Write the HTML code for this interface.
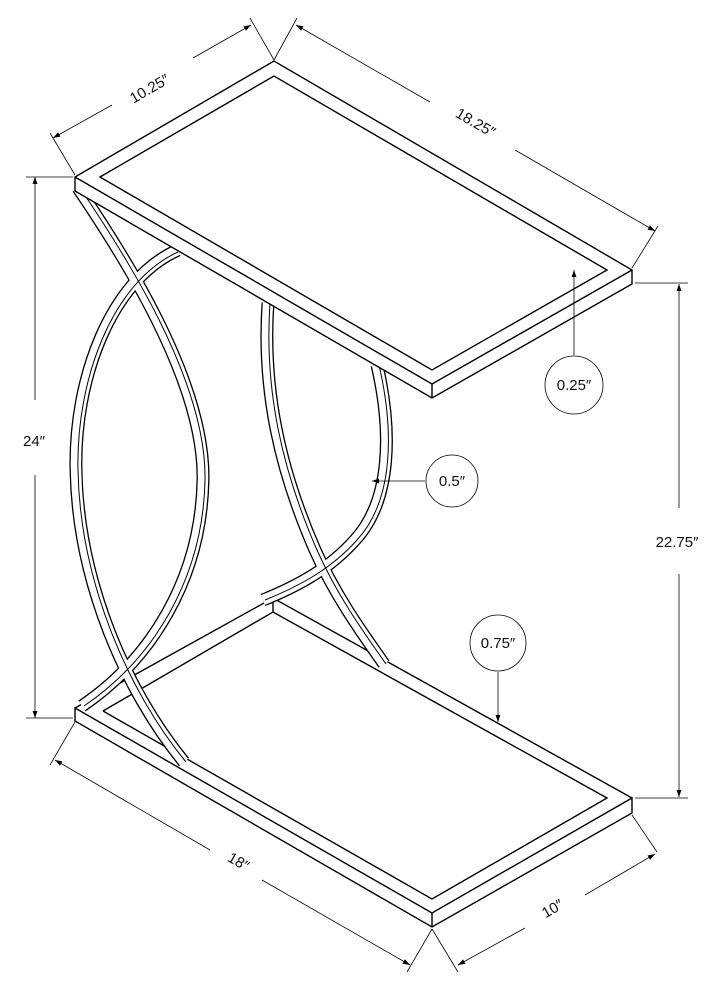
<!DOCTYPE html>
<html><head><style>
html,body{margin:0;padding:0;background:#fff;}
svg{display:block;}
text{font-family:"Liberation Sans",sans-serif;font-size:15px;fill:#111;}
</style></head><body>
<svg width="720" height="990" viewBox="0 0 720 990" xmlns="http://www.w3.org/2000/svg">
<defs>
<marker id="a" viewBox="0 0 10 10" refX="10" refY="5" markerWidth="9" markerHeight="9" orient="auto-start-reverse"><path d="M0,1.5 L10,5 L0,8.5 z" fill="#000"/></marker>
</defs>
<!-- base frame -->
<g stroke="#000" stroke-width="1.4" fill="none" stroke-linejoin="miter">
<path d="M75,708 L432,913 L632,798 L632,813 L432,927 L75,721 Z" fill="#fff"/>
<line x1="432" y1="913" x2="432" y2="927"/>
<polyline points="632,798 273,598 75,708"/>
<polyline points="103,711 273,612 607,798 432,899 103,711"/>
<line x1="273" y1="598" x2="273" y2="612"/>
</g>
<!-- legs -->
<g fill="none" stroke="#000" stroke-width="13">
<path d="M78,188 C120,250 205,380 203,480 C201,580 150,660 82,706"/>
<path d="M178,250 C110,280 74,380 76,470 C78,580 125,690 184,762"/>
<path d="M377,365 C392,430 392,500 355,540 C330,568 300,585 263,600"/>
<path d="M268,303 C262,390 280,470 315,550 C335,595 360,630 384,664"/>
</g>
<g fill="none" stroke="#fff" stroke-width="10.4">
<path d="M78,188 C120,250 205,380 203,480 C201,580 150,660 82,706"/>
<path d="M178,250 C110,280 74,380 76,470 C78,580 125,690 184,762"/>
<path d="M377,365 C392,430 392,500 355,540 C330,568 300,585 263,600"/>
<path d="M268,303 C262,390 280,470 315,550 C335,595 360,630 384,664"/>
</g>
<g fill="none" stroke="#000" stroke-width="1">
<path d="M80,188 C122,250 207,380 205,480 C203,580 152,660 84,706"/>
<path d="M178,252 C112,282 76,380 78,470 C80,580 127,690 186,762"/>
<path d="M379,365 C394,430 394,500 357,540 C332,568 302,585 265,600"/>
<path d="M270,303 C264,390 282,470 317,550 C337,595 362,630 386,664"/>
</g>
<!-- top slab -->
<g stroke="#000" stroke-width="1.4" fill="#fff" stroke-linejoin="miter">
<polygon points="75,177 274,61 632,270 632,284 432,398 75,191"/>
<polyline fill="none" points="75,177 432,384 632,270"/>
<line x1="432" y1="384" x2="432" y2="398"/>
<polygon fill="none" points="100,177 274,76 607,270 432,370"/>
</g>
<!-- dimension lines -->
<g stroke="#000" stroke-width="0.8" fill="none">
<line x1="75" y1="175" x2="50" y2="133"/>
<line x1="274" y1="60" x2="250" y2="18"/>
<line x1="274" y1="60" x2="297" y2="18"/>
<line x1="632" y1="268" x2="658" y2="226"/>
<line x1="53" y1="138" x2="112" y2="105" marker-start="url(#a)"/>
<line x1="193" y1="58" x2="251" y2="25" marker-end="url(#a)"/>
<line x1="296" y1="25" x2="430" y2="102" marker-start="url(#a)"/>
<line x1="515" y1="150" x2="655" y2="231" marker-end="url(#a)"/>
<line x1="26" y1="177" x2="73" y2="177"/>
<line x1="26" y1="718" x2="73" y2="718"/>
<line x1="35" y1="177" x2="35" y2="400" marker-start="url(#a)"/>
<line x1="35" y1="475" x2="35" y2="718" marker-end="url(#a)"/>
<line x1="635" y1="283" x2="688" y2="283"/>
<line x1="635" y1="798" x2="688" y2="798"/>
<line x1="679" y1="284" x2="679" y2="508" marker-start="url(#a)"/>
<line x1="679" y1="574" x2="679" y2="797" marker-end="url(#a)"/>
<line x1="75" y1="722" x2="50" y2="765"/>
<line x1="432" y1="929" x2="407" y2="972"/>
<line x1="432" y1="929" x2="458" y2="972"/>
<line x1="632" y1="815" x2="657" y2="852"/>
<line x1="55" y1="760" x2="210" y2="850" marker-start="url(#a)"/>
<line x1="262" y1="880" x2="410" y2="965" marker-end="url(#a)"/>
<line x1="458" y1="965" x2="525" y2="928" marker-start="url(#a)"/>
<line x1="585" y1="895" x2="655" y2="854" marker-end="url(#a)"/>
<line x1="574" y1="355" x2="574" y2="270" marker-end="url(#a)"/>
<line x1="425" y1="481" x2="372" y2="481" marker-end="url(#a)"/>
<line x1="498" y1="672" x2="498" y2="722" marker-end="url(#a)"/>
<circle cx="574" cy="385" r="29"/>
<circle cx="452" cy="481" r="26"/>
<circle cx="498" cy="643" r="28"/>
</g>
<text x="0" y="0" transform="translate(152,93) rotate(-30)" text-anchor="middle">10.25″</text>
<text x="0" y="0" transform="translate(473,127) rotate(30)" text-anchor="middle">18.25″</text>
<text x="34" y="446" text-anchor="middle">24″</text>
<text x="677" y="547" text-anchor="middle">22.75″</text>
<text x="0" y="0" transform="translate(236,866) rotate(30)" text-anchor="middle">18″</text>
<text x="0" y="0" transform="translate(555,913) rotate(-30)" text-anchor="middle">10″</text>
<text x="574" y="390" text-anchor="middle">0.25″</text>
<text x="452" y="486" text-anchor="middle">0.5″</text>
<text x="498" y="648" text-anchor="middle">0.75″</text>
</svg>
</body></html>
